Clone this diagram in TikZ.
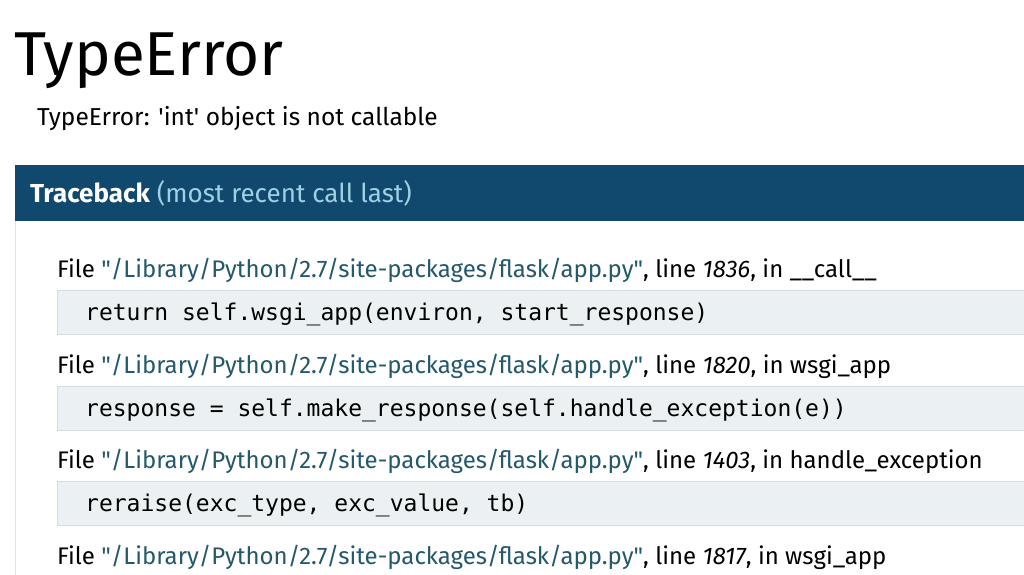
\documentclass[tikz,border=0pt]{standalone}
\usepackage{fontspec}
\setmainfont{Fira Sans}
\setmonofont{DejaVu Sans Mono}
\definecolor{hdrblue}{HTML}{11496E}
\definecolor{hdrlight}{HTML}{9FD1E3}
\definecolor{pathteal}{HTML}{24596B}
\definecolor{codebg}{HTML}{EBF0F2}
\definecolor{codeline}{HTML}{D5DDE1}
\definecolor{frameline}{HTML}{DDE3E6}
\tikzset{
  fileline/.style={anchor=base west, inner sep=0pt, font=\fontsize{24}{28}\selectfont},
  codetext/.style={anchor=base west, inner sep=0pt, font=\ttfamily\fontsize{23}{27}\selectfont},
  codebox/.style={fill=codebg, draw=codeline},
}
\newcommand{\tbpath}{\textcolor{pathteal}{\textquotedbl/Library/Python/2.7/site-packages/flask/app.py\textquotedbl}}
\begin{document}
\begin{tikzpicture}[x=1pt,y=-1pt]
	\useasboundingbox (0,0) rectangle (1024,574);
	\fill[white] (0,0) rectangle (1024,574);

	\node[anchor=base west, inner sep=0pt, font=\fontsize{62}{70}\selectfont] (title) at (14,75) {TypeError};
	\node[anchor=base west, inner sep=0pt, font=\fontsize{24.5}{28}\selectfont] (msg) at (37,125) {TypeError: \textquotesingle int\textquotesingle{} object is not callable};

	% traceback frame
	\draw[frameline] (15,221) -- (15,580);
	\fill[hdrblue] (15,165) rectangle (1030,221);
	\node[anchor=base west, inner sep=0pt, font=\fontsize{26}{30}\selectfont, text=white] (hdr) at (30,202) {\textbf{Traceback} \textcolor{hdrlight}{(most recent call last)}};

	% frames
	\node[fileline] (f1) at (57,277) {File \tbpath, line \textit{1836}, in \_\_call\_\_};
	\fill[codebox] (57,290) rectangle (1030,334);
	\node[codetext] (c1) at (85,320) {return self.wsgi\_app(environ, start\_response)};

	\node[fileline] (f2) at (57,373) {File \tbpath, line \textit{1820}, in wsgi\_app};
	\fill[codebox] (57,386) rectangle (1030,430);
	\node[codetext] (c2) at (85,416) {response = self.make\_response(self.handle\_exception(e))};

	\node[fileline] (f3) at (57,468) {File \tbpath, line \textit{1403}, in handle\_exception};
	\fill[codebox] (57,481) rectangle (1030,525);
	\node[codetext] (c3) at (85,511) {reraise(exc\_type, exc\_value, tb)};

	\node[fileline] (f4) at (57,564) {File \tbpath, line \textit{1817}, in wsgi\_app};
\end{tikzpicture}
\end{document}
